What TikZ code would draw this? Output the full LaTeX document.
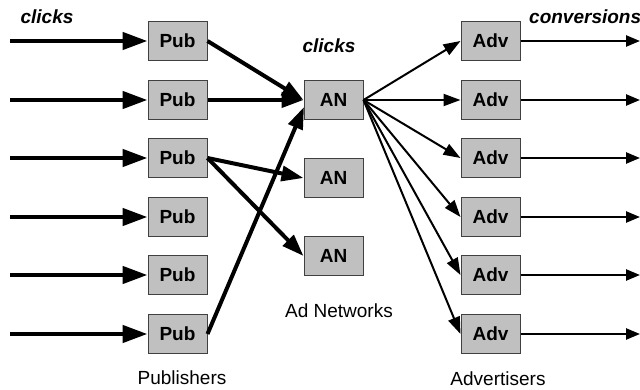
\documentclass[tikz,border=0pt]{standalone}
\usepackage{fontspec}
\setmainfont{Liberation Sans}
\usetikzlibrary{arrows.meta}
\definecolor{boxfill}{HTML}{C0C0C0}
\definecolor{boxline}{HTML}{404040}
\tikzset{
  box/.style={draw=boxline, line width=1pt, fill=boxfill, minimum width=59pt, minimum height=39pt, inner sep=0pt, font=\fontsize{19}{22}\selectfont\bfseries},
  inarrow/.style={line width=4.5pt, -{Triangle[length=25pt,width=17pt]}},
  thickarrow/.style={line width=4pt, -{Triangle[length=22pt,width=15pt]}},
  thinarrow/.style={line width=2pt, -{Triangle[length=17pt,width=12pt]}},
  outarrow/.style={line width=2.5pt, -{Triangle[length=14pt,width=11pt]}},
  hdr/.style={font=\fontsize{19}{22}\selectfont\bfseries\itshape, inner sep=0pt},
  captext/.style={font=\fontsize{19}{22}\selectfont, inner sep=0pt}
}
\begin{document}
\begin{tikzpicture}[x=1pt,y=-1pt]
\useasboundingbox (0,0) rectangle (640,390);
% publishers
\foreach \i/\y in {1/41,2/100,3/158,4/217,5/275,6/334}{
  \node[box] (p\i) at (177.5,\y) {Pub};
  \node[box] (v\i) at (490.5,\y) {Adv};
  \coordinate (s\i) at (10,\y);
  \coordinate (e\i) at (640,\y);
}
\node[box] (a1) at (333.5,100) {AN};
\node[box] (a2) at (333.5,178) {AN};
\node[box] (a3) at (333.5,256) {AN};
% input arrows
\foreach \i in {1,...,6}{
  \draw[inarrow] (s\i) -- (p\i.west);
  \draw[outarrow] (v\i.east) -- (e\i);
}
% pub -> AN
\draw[thickarrow] (p1.east) -- (a1.west);
\draw[thickarrow] (p2.east) -- (a1.west);
\draw[thickarrow] (p3.east) -- (a2.west);
\draw[thickarrow] (p3.east) -- (a3.west);
\coordinate (a1low) at (304,107);
\draw[thickarrow] (p6.east) -- (a1low);
% AN -> adv
\foreach \i in {1,...,6}{
  \draw[thinarrow] (a1.east) -- (v\i.west);
}
% labels
\node[hdr] (l1) at (47,17) {clicks};
\node[hdr] (l2) at (329,46) {clicks};
\node[hdr, anchor=west] (l3) at (529,17) {conversions};
\node[captext] (l4) at (182,378) {Publishers};
\node[captext] (l5) at (339,311) {Ad Networks};
\node[captext] (l6) at (498,379) {Advertisers};
\end{tikzpicture}
\end{document}
